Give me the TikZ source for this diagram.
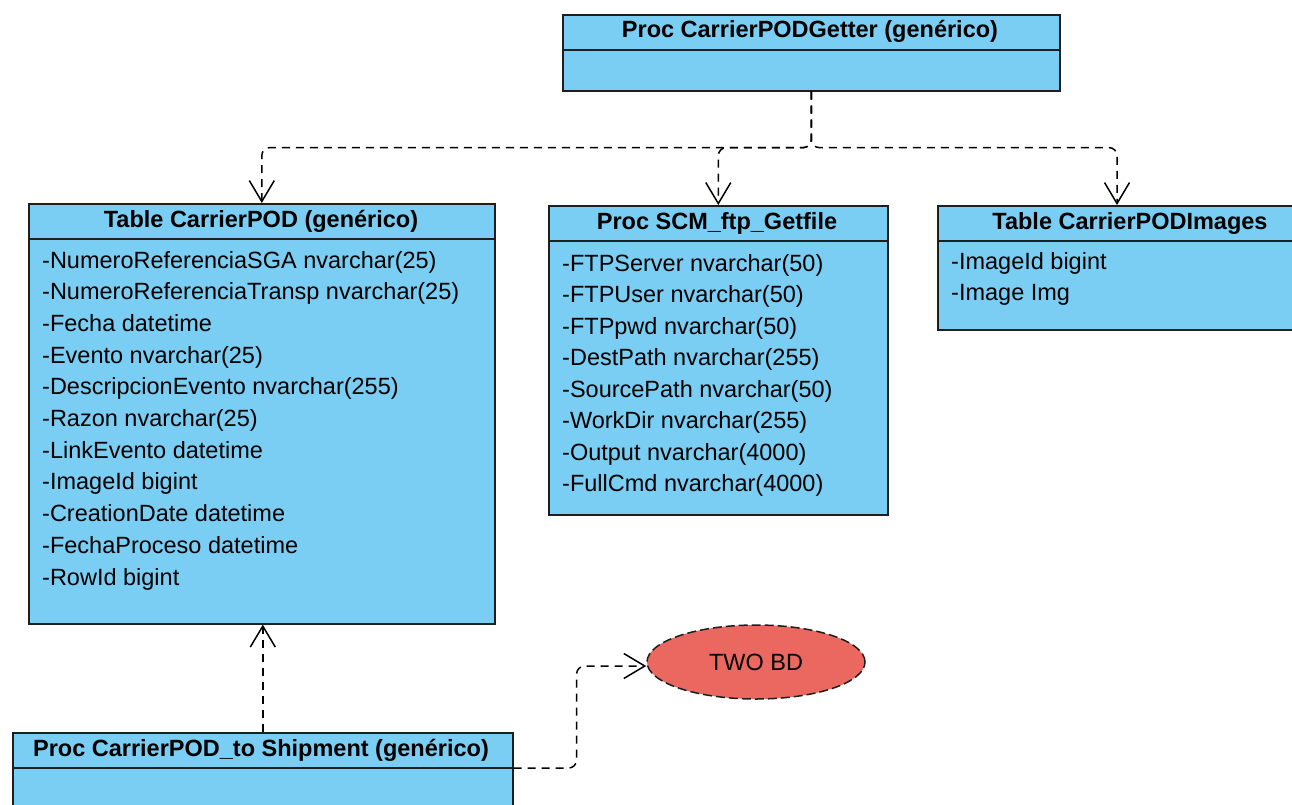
\documentclass[tikz,border=0pt]{standalone}
\usepackage{fontspec}
\setmainfont{Liberation Sans}
\usetikzlibrary{arrows.meta,calc,shapes.geometric}
\definecolor{boxblue}{RGB}{122,206,243}
\definecolor{dbred}{RGB}{234,104,96}
\definecolor{inkline}{RGB}{30,30,30}

\begin{document}
\begin{tikzpicture}[x=1pt,y=-1pt,
  umlbox/.style={draw=inkline, line width=1.6pt, fill=boxblue, rectangle, inner sep=0pt, anchor=north west},
  divider/.style={draw=inkline, line width=1.6pt},
  title/.style={font=\fontsize{23.5}{27}\selectfont\bfseries, inner sep=0pt},
  attr/.style={font=\fontsize{23.5}{28}\selectfont, inner sep=0pt, anchor=base west},
  dep/.style={draw=black, line width=1.5pt, dash pattern=on 8pt off 6pt, rounded corners=8pt,
    -{Straight Barb[length=21pt,width=25pt,line width=1.5pt]}}
]
\useasboundingbox (0,0) rectangle (1292,804);

% --- class boxes ---------------------------------------------------------
\node[umlbox, minimum width=497pt, minimum height=76pt] (getter) at (562,14) {};
\node[umlbox, minimum width=466pt, minimum height=420pt] (pod) at (28,203) {};
\node[umlbox, minimum width=339pt, minimum height=309pt] (scm) at (548,205) {};
\node[umlbox, minimum width=390pt, minimum height=124pt] (images) at (937,205) {};
\node[umlbox, minimum width=500pt, minimum height=110pt] (ship) at (12,732) {};

% header separators
\draw[divider] ($(getter.north west)+(0,36)$) -- ($(getter.north east)+(0,36)$);
\draw[divider] ($(pod.north west)+(0,36)$) -- ($(pod.north east)+(0,36)$);
\draw[divider] ($(scm.north west)+(0,36)$) -- ($(scm.north east)+(0,36)$);
\draw[divider] ($(images.north west)+(0,36)$) -- ($(images.north east)+(0,36)$);
\draw[divider] ($(ship.north west)+(0,36)$) coordinate (shipdivL) -- ($(ship.north east)+(0,36)$) coordinate (shipdivR);

% titles
\node[title] (getter-t) at (810,31) {Proc CarrierPODGetter (genérico)};
\node[title] (pod-t) at (261,221) {Table CarrierPOD (genérico)};
\node[title] (scm-t) at (717,223) {Proc SCM\_ftp\_Getfile};
\node[title] (images-t) at (1130,223) {Table CarrierPODImages};
\node[title] (ship-t) at (261,750) {Proc CarrierPOD\_to Shipment (genérico)};

% attributes
\foreach [count=\i] \t in {-NumeroReferenciaSGA nvarchar(25), -NumeroReferenciaTransp nvarchar(25),
    -Fecha datetime, -Evento nvarchar(25), -DescripcionEvento nvarchar(255), -Razon nvarchar(25),
    -LinkEvento datetime, -ImageId bigint, -CreationDate datetime, -FechaProceso datetime, -RowId bigint}
  \node[attr] (pod-a\i) at (42,{268+(\i-1)*31.7}) {\t};

\foreach [count=\i] \t in {-FTPServer nvarchar(50), -FTPUser nvarchar(50), -FTPpwd nvarchar(50),
    -DestPath nvarchar(255), -SourcePath nvarchar(50), -WorkDir nvarchar(255),
    -Output nvarchar(4000), -FullCmd nvarchar(4000)}
  \node[attr] (scm-a\i) at (562,{271+(\i-1)*31.5}) {\t};

\foreach [count=\i] \t in {-ImageId bigint, -Image Img}
  \node[attr] (images-a\i) at (951,{269+(\i-1)*31.7}) {\t};

% external database
\node[ellipse, draw=inkline, line width=1.5pt, dash pattern=on 9pt off 4pt, fill=dbred,
  minimum width=218pt, minimum height=74pt, inner sep=0pt,
  font=\fontsize{23.5}{27}\selectfont] (twobd) at (756,662) {TWO BD};

% --- dependencies --------------------------------------------------------
\coordinate (bus) at ($(getter.south)+(0,56)$);
\coordinate (imagesIn) at ($(images.north west)+(180,0)$);
\draw[dep] (getter.south) -- (bus) -| (pod.north);
\draw[dep] (getter.south) -- (bus) -| (scm.north);
\draw[dep] (getter.south) -- (bus) -| (imagesIn);

\draw[dep] (ship.north) -- (ship.north |- pod.south);
\draw[dep] (shipdivR) -- ++(63,0) |- ($(twobd.west)+(0,4)$);
\end{tikzpicture}
\end{document}
